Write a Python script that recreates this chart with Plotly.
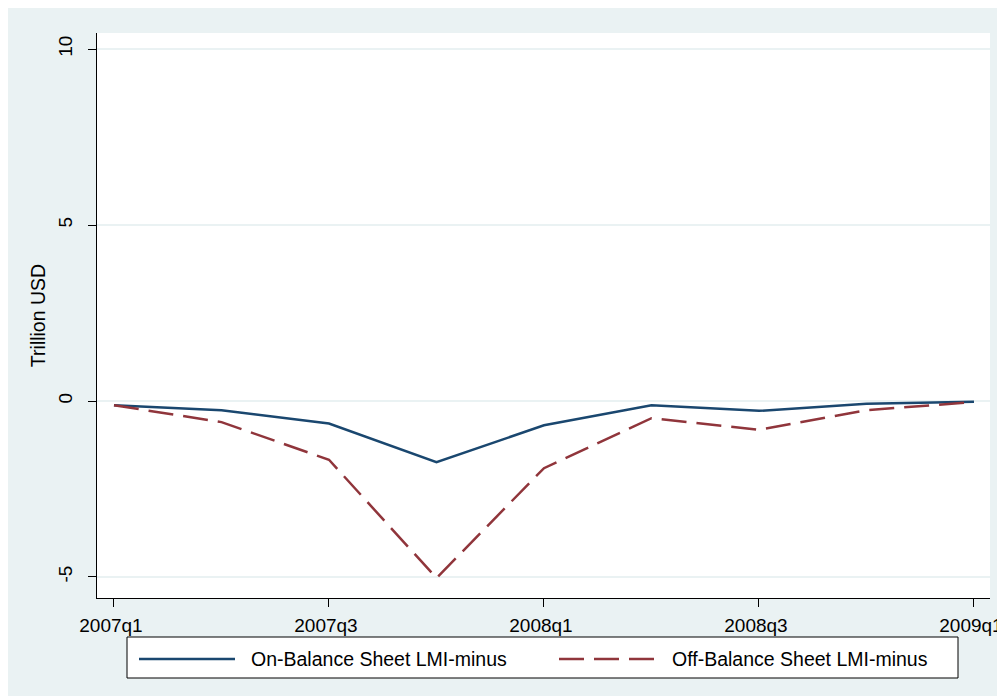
import plotly.graph_objects as go

quarters = ["2007q1", "2007q2", "2007q3", "2007q4", "2008q1", "2008q2", "2008q3", "2008q4", "2009q1"]
on_balance = [-0.12, -0.26, -0.64, -1.74, -0.69, -0.12, -0.28, -0.08, -0.02]
off_balance = [-0.12, -0.60, -1.67, -5.03, -1.91, -0.49, -0.82, -0.26, -0.03]
x_ticks = ["2007q1", "2007q3", "2008q1", "2008q3", "2009q1"]
y_ticks = [-5, 0, 5, 10]
series_names = ["On-Balance Sheet LMI-minus", "Off-Balance Sheet LMI-minus"]

BLUE = "#1a476f"
RED = "#90353b"
BG = "#eaf2f3"
FONT = "Liberation Sans, Arial, sans-serif"
FS = 19.5
TFS = 19

fig = go.Figure()
fig.add_trace(go.Scatter(x=quarters, y=on_balance, mode="lines", name=series_names[0],
                         line=dict(color=BLUE, width=2.5), showlegend=False))
fig.add_trace(go.Scatter(x=quarters, y=off_balance, mode="lines", name=series_names[1],
                         line=dict(color=RED, width=2.5, dash="25px,10px"), showlegend=False))

W, H = 1005, 696
OFF = 8  # page body offset
# plot area in page pixels: x 97-990, y 33-598
L, T = 97 - OFF, 33 - OFF
R, B = W - (990 - OFF), H - (598 - OFF)
pw, ph = W - L - R, H - T - B

def px_x(p):
    return (p - OFF - L) / pw

def px_y(p):
    return (H - B - (p - OFF)) / ph

shapes = [
    dict(type="rect", xref="paper", yref="paper", x0=px_x(127), x1=px_x(958), y0=px_y(678), y1=px_y(637),
         fillcolor="white", line=dict(color="black", width=1)),
    dict(type="line", xref="paper", yref="paper", x0=px_x(139), x1=px_x(235), y0=px_y(659), y1=px_y(659),
         line=dict(color=BLUE, width=2.5)),
    dict(type="line", xref="paper", yref="paper", x0=px_x(559), x1=px_x(655), y0=px_y(659), y1=px_y(659),
         line=dict(color=RED, width=2.5, dash="25px,10px")),
]

annotations = [
    dict(text=series_names[0], xref="paper", yref="paper", x=px_x(249), y=px_y(659),
         xanchor="left", yanchor="middle", showarrow=False, font=dict(family=FONT, size=FS, color="black")),
    dict(text=series_names[1], xref="paper", yref="paper", x=px_x(670), y=px_y(659),
         xanchor="left", yanchor="middle", showarrow=False, font=dict(family=FONT, size=FS, color="black")),
]

fig.update_layout(
    width=W, height=H,
    margin=dict(l=L, r=R, t=T, b=B),
    paper_bgcolor=BG,
    plot_bgcolor="white",
    font=dict(family=FONT, size=FS, color="black"),
    shapes=shapes,
    annotations=annotations,
    showlegend=False,
)

fig.update_xaxes(
    type="category",
    categoryorder="array", categoryarray=quarters,
    range=[-0.158, 8.149],
    tickmode="array", tickvals=x_ticks, ticktext=x_ticks,
    ticks="outside", ticklen=8, tickcolor="black", tickwidth=1,
    ticklabelstandoff=2, ticklabelshift=-3,
    showline=True, linecolor="black", linewidth=1,
    showgrid=False, zeroline=False,
    tickfont=dict(family=FONT, size=TFS),
    automargin=False,
)
fig.update_yaxes(
    range=[-5.597, 10.455],
    tickmode="array", tickvals=y_ticks, ticktext=[str(v) for v in y_ticks],
    tickangle=-90,
    ticks="outside", ticklen=8, tickcolor="black", tickwidth=1,
    ticklabelstandoff=8,
    showline=True, linecolor="black", linewidth=1,
    showgrid=True, gridcolor=BG, gridwidth=2,
    zeroline=False,
    tickfont=dict(family=FONT, size=TFS),
    title=dict(text="Trillion USD", font=dict(family=FONT, size=FS), standoff=4),
    automargin=False,
)

fig.write_html("out.html")
